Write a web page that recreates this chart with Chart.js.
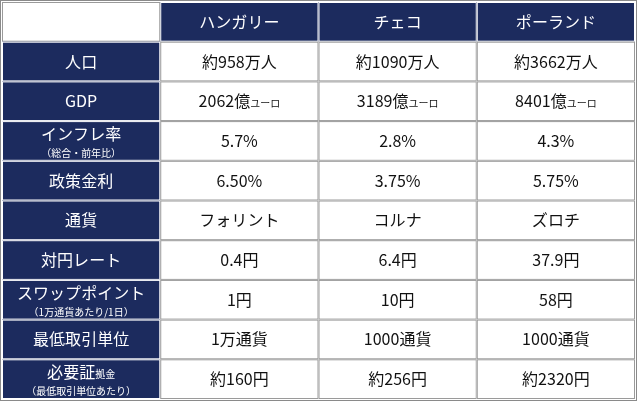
<!DOCTYPE html>
<html><head><meta charset="utf-8">
<script src="https://cdn.jsdelivr.net/npm/chart.js@4"></script>
<style>html,body{margin:0;background:#fff}#wrap{width:637px;height:401px}</style>
</head><body><div id="wrap"><canvas id="c"></canvas></div>
<script>
// column headers (first is the blank corner cell)
const countries = ['', 'ハンガリー', 'チェコ', 'ポーランド'];
// row labels: each line is a list of [text, size]
const rowLabels = [
  [[['人口', 16]]],
  [[['GDP', 16]]],
  [[['インフレ率', 16]], [['（総合・前年比）', 10]]],
  [[['政策金利', 16]]],
  [[['通貨', 16]]],
  [[['対円レート', 16]]],
  [[['スワップポイント', 16]], [['（1万通貨あたり/1日）', 10]]],
  [[['最低取引単位', 16]]],
  [[['必要証', 16], ['拠金', 10]], [['（最低取引単位あたり）', 10]]]
];
const hungary = ['約958万人', ['2062億', 'ユーロ'], '5.7%', '6.50%', 'フォリント', '0.4円', '1円', '1万通貨', '約160円'];
const czech = ['約1090万人', ['3189億', 'ユーロ'], '2.8%', '3.75%', 'コルナ', '6.4円', '10円', '1000通貨', '約256円'];
const poland = ['約3662万人', ['8401億', 'ユーロ'], '4.3%', '5.75%', 'ズロチ', '37.9円', '58円', '1000通貨', '約2320円'];

const NAVY = '#1c2b5e';
const FONT = '"Noto Sans CJK JP", "Noto Sans", sans-serif';
const rows = ['header'].concat(rowLabels.map((_, i) => 'r' + i));

// draw a line made of [text,size] segments centred at x,y
function drawLine(ctx, segs, x, y, color) {
  let w = 0;
  segs.forEach(s => { ctx.font = s[1] + 'px ' + FONT; w += ctx.measureText(s[0]).width; });
  let cx = x - w / 2;
  ctx.fillStyle = color;
  ctx.textBaseline = 'alphabetic';
  ctx.textAlign = 'left';
  segs.forEach(s => {
    ctx.font = s[1] + 'px ' + FONT;
    ctx.fillText(s[0], cx, y + 6);
    cx += ctx.measureText(s[0]).width;
  });
}
function drawLines(ctx, lines, x, y, color) {
  if (lines.length === 1) drawLine(ctx, lines[0], x, y, color);
  else { drawLine(ctx, lines[0], x, y - 7, color); drawLine(ctx, lines[1], x, y + 10, color); }
}

const tablePlugin = {
  id: 'table',
  afterDraw(chart) {
    const ctx = chart.ctx, xs = chart.scales.x, ys = chart.scales.y;
    const area = chart.chartArea;
    const hw = (area.right - area.left) / countries.length / 2;
    const hh = (area.bottom - area.top) / rows.length / 2;
    const data = [hungary, czech, poland];
    ctx.save();
    rows.forEach((r, ri) => {
      const cy = ys.getPixelForValue(ri);
      countries.forEach((c, ci) => {
        const cx = xs.getPixelForValue(ci);
        const x0 = cx - hw, y0 = cy - hh;
        const navy = (ri === 0 && ci > 0) || (ci === 0 && ri > 0);
        ctx.fillStyle = navy ? NAVY : '#fff';
        ctx.fillRect(x0, y0, hw * 2, hh * 2);
        ctx.strokeStyle = navy ? '#fff' : '#9a9a9a';
        ctx.lineWidth = 1;
        ctx.strokeRect(x0 + 0.5, y0 + 0.5, hw * 2 - 1, hh * 2 - 1);
        if (ri === 0 && ci > 0) drawLine(ctx, [[c, 16]], cx, cy, '#fff');
        else if (ci === 0 && ri > 0) drawLines(ctx, rowLabels[ri - 1], cx, cy, '#fff');
        else if (ri > 0) {
          const v = data[ci - 1][ri - 1];
          const segs = Array.isArray(v) ? [[v[0], 16], [v[1], 10]] : [[v, 16]];
          drawLine(ctx, segs, cx, cy, '#111');
        }
      });
    });
    ctx.strokeStyle = '#8a8a8a';
    ctx.strokeRect(0.5, 0.5, chart.width - 1, chart.height - 1);
    ctx.restore();
  }
};

new Chart(document.getElementById('c'), {
  type: 'scatter',
  data: { datasets: [{ data: [], pointRadius: 0 }] },
  options: {
    responsive: true,
    maintainAspectRatio: false,
    animation: false,
    layout: { padding: 2 },
    plugins: { legend: { display: false }, tooltip: { enabled: false } },
    scales: {
      x: { type: 'category', labels: countries, offset: true, display: false },
      y: { type: 'category', labels: rows, offset: true, display: false }
    }
  },
  plugins: [tablePlugin]
});
</script></body></html>
